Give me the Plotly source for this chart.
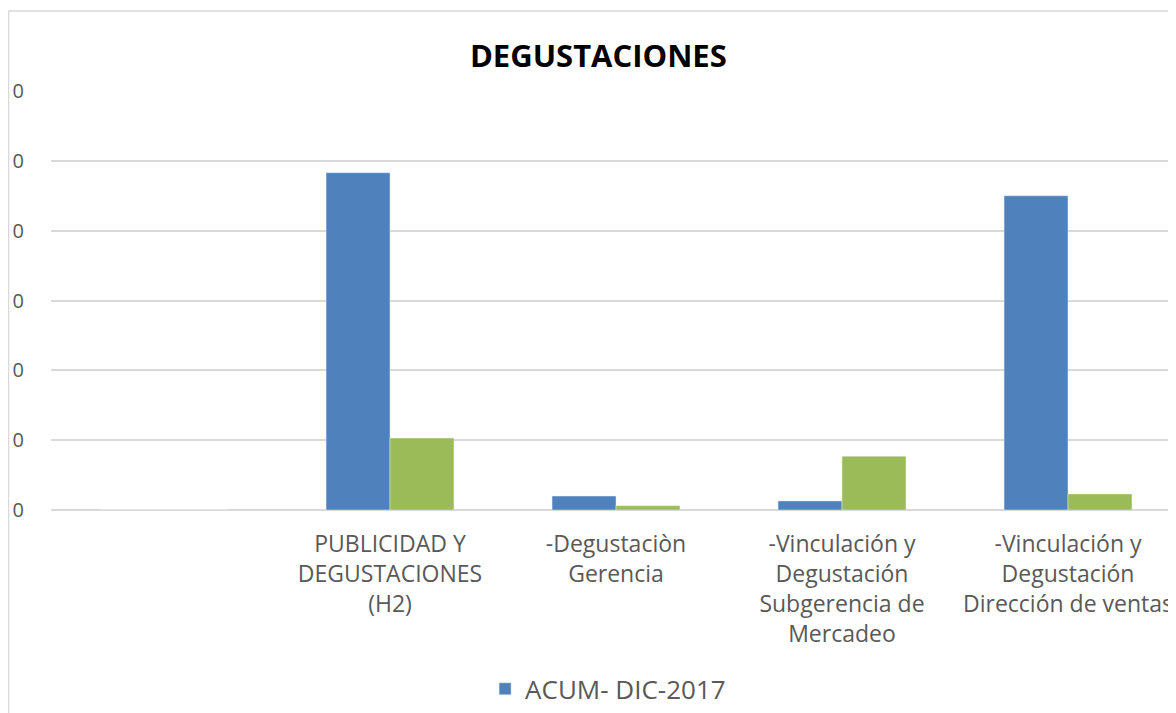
import plotly.graph_objects as go

# categories (first slot is empty in the original chart)
categories = [
    " ",
    "PUBLICIDAD Y<br>DEGUSTACIONES<br>(H2)",
    "-Degustaciòn<br>Gerencia",
    "-Vinculación y<br>Degustación<br>Subgerencia de<br>Mercadeo",
    "-Vinculación y<br>Degustación<br>Dirección de ventas",
]
acum_dic_2017 = [0, 48.3, 2.0, 1.3, 45.0]
second_series = [0, 10.3, 0.6, 7.7, 2.3]
tick_vals = [0, 10, 20, 30, 40, 50, 60]
tick_text = ["0", "0", "0", "0", "0", "0", "0"]

BLUE = "#4f81bd"
GREEN = "#9bbb59"
GREY_TXT = "#595959"
GRID = "#d9d9d9"

fig = go.Figure()
fig.add_trace(go.Bar(x=categories, y=acum_dic_2017, name="ACUM- DIC-2017",
                     marker=dict(color=BLUE)))
fig.add_trace(go.Bar(x=categories, y=second_series, name="",
                     marker=dict(color=GREEN), showlegend=False))

fig.update_layout(
    width=1176, height=713,
    paper_bgcolor="white", plot_bgcolor="white",
    barmode="group", bargap=0.434, bargroupgap=0,
    margin=dict(l=43, r=3, t=83, b=211),
    title=dict(text="<b>DEGUSTACIONES</b>", x=0.502, xanchor="center",
               y=0.933, yanchor="middle",
               font=dict(family="Open Sans", size=31, color="black")),
    font=dict(family="Open Sans", color=GREY_TXT),
    legend=dict(orientation="h", x=0.493, xanchor="center", y=-0.427,
                yanchor="middle", font=dict(size=26, color=GREY_TXT)),
    showlegend=True,
)
fig.update_xaxes(range=[-0.5, 4.5], showgrid=False, showline=False,
                 tickfont=dict(size=23, color=GREY_TXT), ticks="",
                 ticklabelstandoff=18)
fig.update_yaxes(range=[0, 60], tickvals=tick_vals, ticktext=tick_text,
                 showgrid=True, gridcolor=GRID, gridwidth=1.5,
                 zeroline=True, zerolinecolor=GRID, zerolinewidth=1.5,
                 ticklabelstandoff=26,
                 tickfont=dict(size=20, color=GREY_TXT))

# chart frame
fig.add_shape(type="rect", xref="paper", yref="paper",
              x0=-0.0376, x1=1.05, y0=-0.6, y1=1.191,
              line=dict(color=GRID, width=1.5), layer="below")

fig.write_html("out.html")
